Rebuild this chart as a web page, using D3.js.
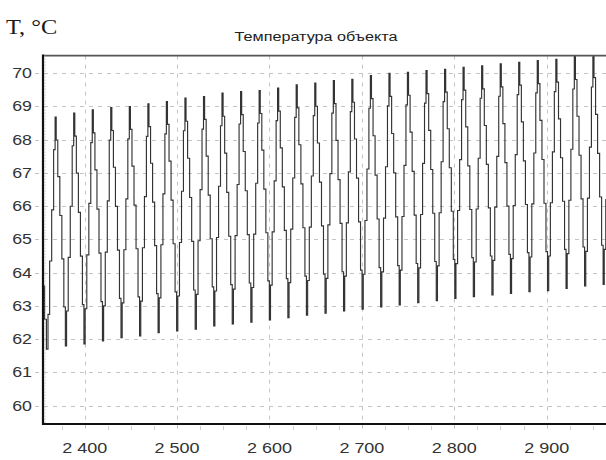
<!DOCTYPE html>
<html>
<head>
<meta charset="utf-8">
<script src="https://cdn.jsdelivr.net/npm/d3@7"></script>
<style>
  html, body { margin: 0; padding: 0; background: #fff; }
  svg { display: block; }
</style>
</head>
<body>
<svg id="chart" width="606" height="460"></svg>
<script>
// ---------- data ----------
const chartTitle = "Температура объекта";
const yAxisTitle = "T, °C";
const yTicks = [60, 61, 62, 63, 64, 65, 66, 67, 68, 69, 70];
const xTicks = [2400, 2500, 2600, 2700, 2800, 2900];
const xTickLabels = ["2 400", "2 500", "2 600", "2 700", "2 800", "2 900"];

// time of each oscillation peak
const peakTimes = [2368.6, 2388.7, 2408.8, 2428.8, 2448.9, 2469.0, 2489.0, 2509.1, 2529.2, 2549.2,
                   2569.3, 2589.4, 2609.4, 2629.5, 2649.6, 2669.7, 2689.7, 2709.8, 2729.9, 2749.9,
                   2770.0, 2790.1, 2810.1, 2830.2, 2850.3, 2870.3, 2890.4, 2910.5, 2930.5, 2950.6];
// temperature at each peak
const peakValues = [68.68, 68.80, 68.90, 68.97, 69.00, 69.08, 69.15, 69.25, 69.30, 69.40,
                    69.45, 69.48, 69.55, 69.65, 69.70, 69.78, 69.82, 69.93, 70.00, 70.03,
                    70.08, 70.12, 70.18, 70.22, 70.28, 70.33, 70.38, 70.42, 70.50, 70.56];
// temperature at the trough before each peak
const troughValues = [61.70, 61.80, 61.86, 61.95, 62.05, 62.10, 62.20, 62.25, 62.30, 62.40,
                      62.46, 62.51, 62.58, 62.65, 62.72, 62.78, 62.85, 62.90, 62.97, 63.03,
                      63.10, 63.16, 63.23, 63.28, 63.33, 63.38, 63.43, 63.46, 63.53, 63.60];
// samples at the start and the end of the record
const leadIn = [[2355.6, 63.6], [2357.6, 62.6]];
const tailOut = [[2961.7, 63.65], [2962.9, 64.7], [2965.0, 66.2]];
// sampled shape of one cycle: time offset from the peak and share of the swing
const cycleOffsets   = [-9, -7.6, -5.4, -3.2, -1.2, 0, 1.2, 3.4, 5.6, 7.8, 9.9];
const cycleFractions = [0, 0.15, 0.38, 0.6, 0.86, 1, 0.9, 0.74, 0.57, 0.38, 0.17];

// ---------- build series ----------
const series = [...leadIn];
peakTimes.forEach((pt, k) => {
  const lo = troughValues[k];
  const hi = peakValues[k];
  const next = k + 1 < troughValues.length ? troughValues[k + 1] : tailOut[0][1];
  cycleOffsets.forEach((off, j) => {
    const base = off <= 0 ? lo : next;
    series.push([pt + off, base + cycleFractions[j] * (hi - base)]);
  });
});
series.push(...tailOut);

// ---------- layout ----------
const svg = d3.select("#chart");
const L = 43, R = 606, T = 55.6, B = 424;

const x = d3.scaleLinear().domain([2354.9, 2964.2]).range([L, R]);
const y = d3.scaleLinear().domain([59.45, 70.53]).range([B, T]);

svg.append("defs").append("clipPath").attr("id", "plotClip")
  .append("rect").attr("x", L).attr("y", T).attr("width", R - L).attr("height", B - T);

// grid
const grid = svg.append("g");
grid.selectAll("line.hg").data(yTicks).join("line")
  .attr("x1", 35).attr("x2", R)
  .attr("y1", d => Math.round(y(d)) + 0.5).attr("y2", d => Math.round(y(d)) + 0.5)
  .attr("stroke", "#c4c4c4").attr("stroke-width", 1).attr("stroke-dasharray", "4,5");
grid.selectAll("line.vg").data(xTicks).join("line")
  .attr("x1", d => Math.round(x(d)) + 0.5).attr("x2", d => Math.round(x(d)) + 0.5)
  .attr("y1", T).attr("y2", B + 9)
  .attr("stroke", "#c4c4c4").attr("stroke-width", 1).attr("stroke-dasharray", "4,5");

// minor x ticks
const minorX = d3.range(2375, 2964, 25).filter(v => v % 100 !== 0);
svg.append("g").selectAll("line").data(minorX).join("line")
  .attr("x1", d => Math.round(x(d)) + 0.5).attr("x2", d => Math.round(x(d)) + 0.5)
  .attr("y1", B + 2).attr("y2", B + 6)
  .attr("stroke", "#cfcfcf").attr("stroke-width", 1);

// data line
const line = d3.line().x(d => x(d[0])).y(d => y(d[1])).curve(d3.curveStep);
svg.append("path").datum(series)
  .attr("clip-path", "url(#plotClip)")
  .attr("d", line)
  .attr("fill", "none")
  .attr("stroke", "#333")
  .attr("stroke-width", 1.15)
  .attr("stroke-linejoin", "miter");

// frame
svg.append("line").attr("x1", L).attr("x2", R).attr("y1", T).attr("y2", T)
  .attr("stroke", "#555").attr("stroke-width", 1.6);
svg.append("line").attr("x1", L).attr("x2", L).attr("y1", T - 1).attr("y2", B + 1)
  .attr("stroke", "#111").attr("stroke-width", 2.2);
svg.append("line").attr("x1", L + 2).attr("x2", L + 2).attr("y1", T).attr("y2", B)
  .attr("stroke", "#aaa").attr("stroke-width", 1).attr("stroke-dasharray", "1,2");
svg.append("line").attr("x1", L - 1).attr("x2", R).attr("y1", B).attr("y2", B)
  .attr("stroke", "#111").attr("stroke-width", 2.2);

// y tick labels
svg.append("g").selectAll("g").data(yTicks).join("g")
  .attr("transform", d => `translate(32,${y(d) + 5})`)
  .append("text")
  .attr("text-anchor", "end")
  .attr("transform", "scale(1.27,1)")
  .attr("font-family", "Liberation Sans, Arial, sans-serif")
  .attr("font-size", 14)
  .attr("fill", "#333")
  .text(d => d);

// x tick labels
svg.append("g").selectAll("g").data(xTicks).join("g")
  .attr("transform", d => `translate(${x(d)},453)`)
  .append("text")
  .attr("text-anchor", "middle")
  .attr("transform", "scale(1.2,1)")
  .attr("font-family", "Liberation Sans, Arial, sans-serif")
  .attr("font-size", 15)
  .attr("fill", "#333")
  .text((d, i) => xTickLabels[i]);

// title
svg.append("g").attr("transform", "translate(316,41)")
  .append("text")
  .attr("text-anchor", "middle")
  .attr("transform", "scale(1.2,1)")
  .attr("font-family", "Liberation Sans, Arial, sans-serif")
  .attr("font-size", 13.5)
  .attr("fill", "#222")
  .text(chartTitle);

// y axis title
svg.append("g").attr("transform", "translate(6,34)")
  .append("text")
  .attr("transform", "scale(1.22,1)")
  .attr("font-family", "Liberation Serif, Times New Roman, serif")
  .attr("font-size", 20)
  .attr("fill", "#1a1a1a")
  .text(yAxisTitle);
</script>
</body>
</html>
